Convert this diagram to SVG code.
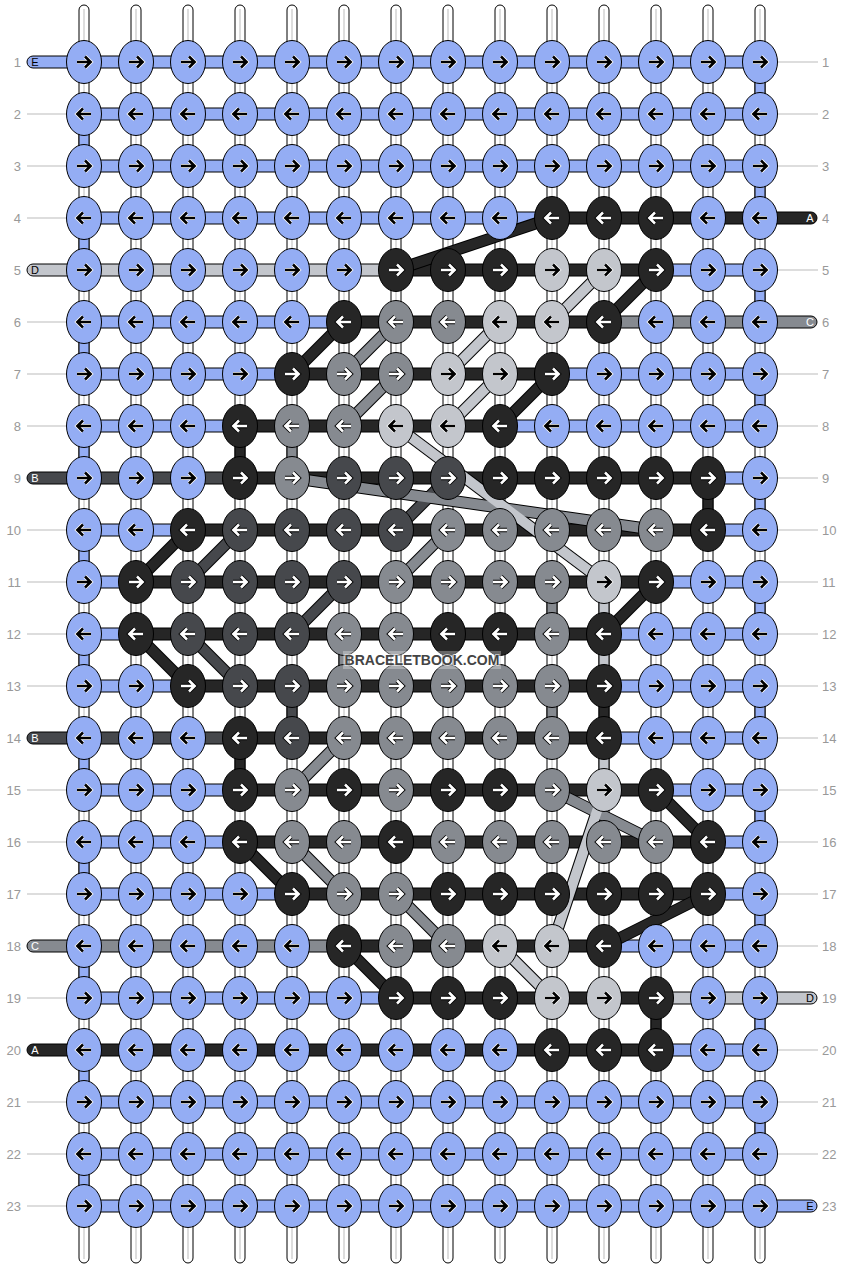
<svg xmlns="http://www.w3.org/2000/svg" xmlns:xlink="http://www.w3.org/1999/xlink" width="844" height="1268" viewBox="0 0 844 1268">
<style>
.wp rect{fill:#fff;stroke:#000;stroke-width:1}
.E{fill:#94adf4}.A{fill:#262626}.B{fill:#46484c}.C{fill:#868a90}.D{fill:#c3c6cc}
.wf rect{stroke:#000;stroke-width:1}
.num{font-family:"Liberation Sans",Arial,sans-serif;font-size:13px;fill:#999}
.lab{font-family:"Liberation Sans",Arial,sans-serif;font-size:11px;text-anchor:middle}
.do line{stroke:#000;stroke-width:12}
.dA{stroke:#262626;stroke-width:10}.dB{stroke:#46484c;stroke-width:10}.dC{stroke:#868a90;stroke-width:10}.dD{stroke:#c3c6cc;stroke-width:10}
</style>
<defs>
<path id="pR" d="M-7 0H6.2M1-5.5L6.6 0L1 5.5" fill="none"/>
<path id="pL" d="M7 0H-6.2M-1-5.5L-6.6 0L-1 5.5" fill="none"/>
<g id="Rw"><use href="#pR" stroke="#000" stroke-width="4.4"/><use href="#pR" stroke="#fff" stroke-width="2.6"/></g>
<g id="Rb"><use href="#pR" stroke="#fff" stroke-width="4.2"/><use href="#pR" stroke="#000" stroke-width="2.6"/></g>
<g id="Lw"><use href="#pL" stroke="#000" stroke-width="4.4"/><use href="#pL" stroke="#fff" stroke-width="2.6"/></g>
<g id="Lb"><use href="#pL" stroke="#fff" stroke-width="4.2"/><use href="#pL" stroke="#000" stroke-width="2.6"/></g>
<g id="ER"><ellipse rx="17.5" ry="21.5" fill="#94adf4" stroke="#000"/><use href="#Rb"/></g>
<g id="EL"><ellipse rx="17.5" ry="21.5" fill="#94adf4" stroke="#000"/><use href="#Lb"/></g>
<g id="DR"><ellipse rx="17.5" ry="21.5" fill="#c3c6cc" stroke="#000"/><use href="#Rb"/></g>
<g id="DL"><ellipse rx="17.5" ry="21.5" fill="#c3c6cc" stroke="#000"/><use href="#Lb"/></g>
<g id="AR"><ellipse rx="17.5" ry="21.5" fill="#262626" stroke="#000"/><use href="#Rw"/></g>
<g id="AL"><ellipse rx="17.5" ry="21.5" fill="#262626" stroke="#000"/><use href="#Lw"/></g>
<g id="BR"><ellipse rx="17.5" ry="21.5" fill="#46484c" stroke="#000"/><use href="#Rw"/></g>
<g id="BL"><ellipse rx="17.5" ry="21.5" fill="#46484c" stroke="#000"/><use href="#Lw"/></g>
<g id="CR"><ellipse rx="17.5" ry="21.5" fill="#868a90" stroke="#000"/><use href="#Rw"/></g>
<g id="CL"><ellipse rx="17.5" ry="21.5" fill="#868a90" stroke="#000"/><use href="#Lw"/></g>
</defs>
<rect width="844" height="1268" fill="#fff"/>
<g id="rownumbers" class="num">
<g text-anchor="end">
<text x="21" y="66.5">1</text><text x="21" y="118.5">2</text><text x="21" y="170.5">3</text><text x="21" y="222.5">4</text><text x="21" y="274.5">5</text><text x="21" y="326.5">6</text><text x="21" y="378.5">7</text><text x="21" y="430.5">8</text><text x="21" y="482.5">9</text><text x="21" y="534.5">10</text><text x="21" y="586.5">11</text><text x="21" y="638.5">12</text><text x="21" y="690.5">13</text><text x="21" y="742.5">14</text><text x="21" y="794.5">15</text><text x="21" y="846.5">16</text><text x="21" y="898.5">17</text><text x="21" y="950.5">18</text><text x="21" y="1002.5">19</text><text x="21" y="1054.5">20</text><text x="21" y="1106.5">21</text><text x="21" y="1158.5">22</text><text x="21" y="1210.5">23</text>
</g>
<g>
<text x="822" y="66.5">1</text><text x="822" y="118.5">2</text><text x="822" y="170.5">3</text><text x="822" y="222.5">4</text><text x="822" y="274.5">5</text><text x="822" y="326.5">6</text><text x="822" y="378.5">7</text><text x="822" y="430.5">8</text><text x="822" y="482.5">9</text><text x="822" y="534.5">10</text><text x="822" y="586.5">11</text><text x="822" y="638.5">12</text><text x="822" y="690.5">13</text><text x="822" y="742.5">14</text><text x="822" y="794.5">15</text><text x="822" y="846.5">16</text><text x="822" y="898.5">17</text><text x="822" y="950.5">18</text><text x="822" y="1002.5">19</text><text x="822" y="1054.5">20</text><text x="822" y="1106.5">21</text><text x="822" y="1158.5">22</text><text x="822" y="1210.5">23</text>
</g>
</g>
<g id="connectors">
<g id="rowlines" stroke="#bbb" stroke-width="1">
<path d="M27 114H67M27 166H67M27 218H67M27 322H67M27 374H67M27 426H67M27 530H67M27 582H67M27 634H67M27 686H67M27 790H67M27 842H67M27 894H67M27 998H67M27 1102H67M27 1154H67M27 1206H67"/>
<path d="M777 62H818M777 114H818M777 166H818M777 270H818M777 374H818M777 426H818M777 478H818M777 530H818M777 582H818M777 634H818M777 686H818M777 738H818M777 790H818M777 842H818M777 894H818M777 946H818M777 1050H818M777 1102H818M777 1154H818"/>
</g>
<g id="warps" class="wp">
<rect x="79" y="5" width="10" height="1258" rx="5"/><rect x="131" y="5" width="10" height="1258" rx="5"/><rect x="183" y="5" width="10" height="1258" rx="5"/><rect x="235" y="5" width="10" height="1258" rx="5"/><rect x="287" y="5" width="10" height="1258" rx="5"/><rect x="339" y="5" width="10" height="1258" rx="5"/><rect x="391" y="5" width="10" height="1258" rx="5"/><rect x="443" y="5" width="10" height="1258" rx="5"/><rect x="495" y="5" width="10" height="1258" rx="5"/><rect x="547" y="5" width="10" height="1258" rx="5"/><rect x="599" y="5" width="10" height="1258" rx="5"/><rect x="651" y="5" width="10" height="1258" rx="5"/><rect x="703" y="5" width="10" height="1258" rx="5"/><rect x="755" y="5" width="10" height="1258" rx="5"/>
</g>
<path id="warpcentres" stroke="#bbb" stroke-width="1" d="M84 9V1259M136 9V1259M188 9V1259M240 9V1259M292 9V1259M344 9V1259M396 9V1259M448 9V1259M500 9V1259M552 9V1259M604 9V1259M656 9V1259M708 9V1259M760 9V1259"/>
<g id="vertical" class="wf">
<rect class="E" x="755" y="62" width="10" height="52"/><rect class="E" x="755" y="166" width="10" height="52"/><rect class="E" x="755" y="270" width="10" height="52"/><rect class="E" x="755" y="374" width="10" height="52"/><rect class="E" x="755" y="478" width="10" height="52"/><rect class="E" x="755" y="582" width="10" height="52"/><rect class="E" x="755" y="686" width="10" height="52"/><rect class="E" x="755" y="790" width="10" height="52"/><rect class="E" x="755" y="894" width="10" height="52"/><rect class="E" x="755" y="998" width="10" height="52"/><rect class="E" x="755" y="1102" width="10" height="52"/>
<rect class="E" x="79" y="114" width="10" height="52"/><rect class="E" x="79" y="218" width="10" height="52"/><rect class="E" x="79" y="322" width="10" height="52"/><rect class="E" x="79" y="426" width="10" height="52"/><rect class="E" x="79" y="530" width="10" height="52"/><rect class="E" x="79" y="634" width="10" height="52"/><rect class="E" x="79" y="738" width="10" height="52"/><rect class="E" x="79" y="842" width="10" height="52"/><rect class="E" x="79" y="946" width="10" height="52"/><rect class="E" x="79" y="1050" width="10" height="52"/><rect class="E" x="79" y="1154" width="10" height="52"/>
<rect class="A" x="235" y="426" width="10" height="52"/><rect class="A" x="703" y="478" width="10" height="52"/><rect class="A" x="235" y="738" width="10" height="52"/><rect class="A" x="651" y="998" width="10" height="52"/>
<rect class="B" x="287" y="686" width="10" height="52"/>
<rect class="C" x="287" y="426" width="10" height="52"/><rect class="C" x="547" y="582" width="10" height="52"/><rect class="C" x="547" y="686" width="10" height="52"/><rect class="C" x="339" y="634" width="10" height="52"/>
<rect class="D" x="599" y="582" width="10" height="104"/><rect class="D" x="599" y="738" width="10" height="52"/>
<rect class="A" x="599" y="686" width="10" height="52"/>
</g>
<g id="weft" class="wf">
<rect class="E" x="27" y="56" width="57" height="12" rx="6"/><rect class="E" x="84" y="56" width="676" height="12"/>
<rect class="E" x="84" y="108" width="676" height="12"/>
<rect class="E" x="84" y="160" width="676" height="12"/>
<rect class="E" x="84" y="212" width="468" height="12"/><rect class="A" x="552" y="212" width="208" height="12"/><rect class="A" x="760" y="212" width="57" height="12" rx="6"/>
<rect class="D" x="27" y="264" width="57" height="12" rx="6"/><rect class="D" x="84" y="264" width="312" height="12"/><rect class="A" x="396" y="264" width="260" height="12"/><rect class="E" x="656" y="264" width="104" height="12"/>
<rect class="E" x="84" y="316" width="260" height="12"/><rect class="A" x="344" y="316" width="260" height="12"/><rect class="C" x="604" y="316" width="156" height="12"/><rect class="C" x="760" y="316" width="57" height="12" rx="6"/>
<rect class="E" x="84" y="368" width="208" height="12"/><rect class="A" x="292" y="368" width="260" height="12"/><rect class="E" x="552" y="368" width="208" height="12"/>
<rect class="E" x="84" y="420" width="156" height="12"/><rect class="A" x="240" y="420" width="260" height="12"/><rect class="E" x="500" y="420" width="260" height="12"/>
<rect class="B" x="27" y="472" width="57" height="12" rx="6"/><rect class="B" x="84" y="472" width="156" height="12"/><rect class="A" x="240" y="472" width="468" height="12"/><rect class="E" x="708" y="472" width="52" height="12"/>
<rect class="E" x="84" y="524" width="104" height="12"/><rect class="A" x="188" y="524" width="520" height="12"/><rect class="E" x="708" y="524" width="52" height="12"/>
<rect class="E" x="84" y="576" width="52" height="12"/><rect class="A" x="136" y="576" width="520" height="12"/><rect class="E" x="656" y="576" width="104" height="12"/>
<rect class="E" x="84" y="628" width="52" height="12"/><rect class="A" x="136" y="628" width="468" height="12"/><rect class="E" x="604" y="628" width="156" height="12"/>
<rect class="E" x="84" y="680" width="104" height="12"/><rect class="A" x="188" y="680" width="416" height="12"/><rect class="E" x="604" y="680" width="156" height="12"/>
<rect class="B" x="27" y="732" width="57" height="12" rx="6"/><rect class="B" x="84" y="732" width="156" height="12"/><rect class="A" x="240" y="732" width="364" height="12"/><rect class="E" x="604" y="732" width="156" height="12"/>
<rect class="E" x="84" y="784" width="156" height="12"/><rect class="A" x="240" y="784" width="416" height="12"/><rect class="E" x="656" y="784" width="104" height="12"/>
<rect class="E" x="84" y="836" width="156" height="12"/><rect class="A" x="240" y="836" width="468" height="12"/><rect class="E" x="708" y="836" width="52" height="12"/>
<rect class="E" x="84" y="888" width="208" height="12"/><rect class="A" x="292" y="888" width="416" height="12"/><rect class="E" x="708" y="888" width="52" height="12"/>
<rect class="C" x="27" y="940" width="57" height="12" rx="6"/><rect class="C" x="84" y="940" width="260" height="12"/><rect class="A" x="344" y="940" width="260" height="12"/><rect class="E" x="604" y="940" width="156" height="12"/>
<rect class="E" x="84" y="992" width="312" height="12"/><rect class="A" x="396" y="992" width="260" height="12"/><rect class="D" x="656" y="992" width="104" height="12"/><rect class="D" x="760" y="992" width="57" height="12" rx="6"/>
<rect class="A" x="27" y="1044" width="57" height="12" rx="6"/><rect class="A" x="84" y="1044" width="572" height="12"/><rect class="E" x="656" y="1044" width="104" height="12"/>
<rect class="E" x="84" y="1096" width="676" height="12"/>
<rect class="E" x="84" y="1148" width="676" height="12"/>
<rect class="E" x="84" y="1200" width="676" height="12"/><rect class="E" x="760" y="1200" width="57" height="12" rx="6"/>
</g>
<g id="diagonals">
<g class="do">
<line x1="552" y1="218" x2="396" y2="270"/><line x1="656" y1="270" x2="604" y2="322"/><line x1="344" y1="322" x2="292" y2="374"/><line x1="552" y1="374" x2="500" y2="426"/><line x1="188" y1="530" x2="136" y2="582"/><line x1="656" y1="582" x2="604" y2="634"/><line x1="136" y1="634" x2="188" y2="686"/><line x1="656" y1="790" x2="708" y2="842"/><line x1="240" y1="842" x2="292" y2="894"/><line x1="708" y1="894" x2="604" y2="946"/><line x1="344" y1="946" x2="396" y2="998"/>
<line x1="448" y1="478" x2="396" y2="530"/><line x1="240" y1="530" x2="188" y2="582"/><line x1="344" y1="582" x2="292" y2="634"/><line x1="188" y1="634" x2="240" y2="686"/>
<line x1="396" y1="322" x2="344" y2="374"/><line x1="396" y1="374" x2="344" y2="426"/><line x1="292" y1="478" x2="656" y2="530"/><line x1="448" y1="530" x2="396" y2="582"/><line x1="344" y1="738" x2="292" y2="790"/><line x1="552" y1="790" x2="656" y2="842"/><line x1="292" y1="842" x2="344" y2="894"/><line x1="396" y1="894" x2="448" y2="946"/>
<line x1="604" y1="270" x2="552" y2="322"/><line x1="500" y1="322" x2="448" y2="374"/><line x1="500" y1="374" x2="448" y2="426"/><line x1="396" y1="426" x2="604" y2="582"/><line x1="604" y1="790" x2="552" y2="946"/><line x1="500" y1="946" x2="552" y2="998"/>
</g>
<g class="dA">
<line x1="552" y1="218" x2="396" y2="270"/><line x1="656" y1="270" x2="604" y2="322"/><line x1="344" y1="322" x2="292" y2="374"/><line x1="552" y1="374" x2="500" y2="426"/><line x1="188" y1="530" x2="136" y2="582"/><line x1="656" y1="582" x2="604" y2="634"/><line x1="136" y1="634" x2="188" y2="686"/><line x1="656" y1="790" x2="708" y2="842"/><line x1="240" y1="842" x2="292" y2="894"/><line x1="708" y1="894" x2="604" y2="946"/><line x1="344" y1="946" x2="396" y2="998"/>
</g>
<g class="dB">
<line x1="448" y1="478" x2="396" y2="530"/><line x1="240" y1="530" x2="188" y2="582"/><line x1="344" y1="582" x2="292" y2="634"/><line x1="188" y1="634" x2="240" y2="686"/>
</g>
<g class="dC">
<line x1="396" y1="322" x2="344" y2="374"/><line x1="396" y1="374" x2="344" y2="426"/><line x1="292" y1="478" x2="656" y2="530"/><line x1="448" y1="530" x2="396" y2="582"/><line x1="344" y1="738" x2="292" y2="790"/><line x1="552" y1="790" x2="656" y2="842"/><line x1="292" y1="842" x2="344" y2="894"/><line x1="396" y1="894" x2="448" y2="946"/>
</g>
<g class="dD">
<line x1="604" y1="270" x2="552" y2="322"/><line x1="500" y1="322" x2="448" y2="374"/><line x1="500" y1="374" x2="448" y2="426"/><line x1="396" y1="426" x2="604" y2="582"/><line x1="604" y1="790" x2="552" y2="946"/><line x1="500" y1="946" x2="552" y2="998"/>
</g>
</g>
<g id="strandlabels" class="lab">
<text x="35" y="66">E</text><text x="35" y="274">D</text><text x="35" y="482" fill="#fff">B</text><text x="35" y="742" fill="#fff">B</text><text x="35" y="950" fill="#fff">C</text><text x="35" y="1054" fill="#fff">A</text>
<text x="810" y="222" fill="#fff">A</text><text x="810" y="326" fill="#fff">C</text><text x="810" y="1002">D</text><text x="810" y="1210">E</text>
</g>
</g>
<g id="knots">
<g id="n1-1"><use href="#ER" x="84" y="62"/></g><g id="n1-2"><use href="#ER" x="136" y="62"/></g><g id="n1-3"><use href="#ER" x="188" y="62"/></g><g id="n1-4"><use href="#ER" x="240" y="62"/></g><g id="n1-5"><use href="#ER" x="292" y="62"/></g><g id="n1-6"><use href="#ER" x="344" y="62"/></g><g id="n1-7"><use href="#ER" x="396" y="62"/></g><g id="n1-8"><use href="#ER" x="448" y="62"/></g><g id="n1-9"><use href="#ER" x="500" y="62"/></g><g id="n1-10"><use href="#ER" x="552" y="62"/></g><g id="n1-11"><use href="#ER" x="604" y="62"/></g><g id="n1-12"><use href="#ER" x="656" y="62"/></g><g id="n1-13"><use href="#ER" x="708" y="62"/></g><g id="n1-14"><use href="#ER" x="760" y="62"/></g>
<g id="n2-1"><use href="#EL" x="84" y="114"/></g><g id="n2-2"><use href="#EL" x="136" y="114"/></g><g id="n2-3"><use href="#EL" x="188" y="114"/></g><g id="n2-4"><use href="#EL" x="240" y="114"/></g><g id="n2-5"><use href="#EL" x="292" y="114"/></g><g id="n2-6"><use href="#EL" x="344" y="114"/></g><g id="n2-7"><use href="#EL" x="396" y="114"/></g><g id="n2-8"><use href="#EL" x="448" y="114"/></g><g id="n2-9"><use href="#EL" x="500" y="114"/></g><g id="n2-10"><use href="#EL" x="552" y="114"/></g><g id="n2-11"><use href="#EL" x="604" y="114"/></g><g id="n2-12"><use href="#EL" x="656" y="114"/></g><g id="n2-13"><use href="#EL" x="708" y="114"/></g><g id="n2-14"><use href="#EL" x="760" y="114"/></g>
<g id="n3-1"><use href="#ER" x="84" y="166"/></g><g id="n3-2"><use href="#ER" x="136" y="166"/></g><g id="n3-3"><use href="#ER" x="188" y="166"/></g><g id="n3-4"><use href="#ER" x="240" y="166"/></g><g id="n3-5"><use href="#ER" x="292" y="166"/></g><g id="n3-6"><use href="#ER" x="344" y="166"/></g><g id="n3-7"><use href="#ER" x="396" y="166"/></g><g id="n3-8"><use href="#ER" x="448" y="166"/></g><g id="n3-9"><use href="#ER" x="500" y="166"/></g><g id="n3-10"><use href="#ER" x="552" y="166"/></g><g id="n3-11"><use href="#ER" x="604" y="166"/></g><g id="n3-12"><use href="#ER" x="656" y="166"/></g><g id="n3-13"><use href="#ER" x="708" y="166"/></g><g id="n3-14"><use href="#ER" x="760" y="166"/></g>
<g id="n4-1"><use href="#EL" x="84" y="218"/></g><g id="n4-2"><use href="#EL" x="136" y="218"/></g><g id="n4-3"><use href="#EL" x="188" y="218"/></g><g id="n4-4"><use href="#EL" x="240" y="218"/></g><g id="n4-5"><use href="#EL" x="292" y="218"/></g><g id="n4-6"><use href="#EL" x="344" y="218"/></g><g id="n4-7"><use href="#EL" x="396" y="218"/></g><g id="n4-8"><use href="#EL" x="448" y="218"/></g><g id="n4-9"><use href="#EL" x="500" y="218"/></g><g id="n4-10"><use href="#AL" x="552" y="218"/></g><g id="n4-11"><use href="#AL" x="604" y="218"/></g><g id="n4-12"><use href="#AL" x="656" y="218"/></g><g id="n4-13"><use href="#EL" x="708" y="218"/></g><g id="n4-14"><use href="#EL" x="760" y="218"/></g>
<g id="n5-1"><use href="#ER" x="84" y="270"/></g><g id="n5-2"><use href="#ER" x="136" y="270"/></g><g id="n5-3"><use href="#ER" x="188" y="270"/></g><g id="n5-4"><use href="#ER" x="240" y="270"/></g><g id="n5-5"><use href="#ER" x="292" y="270"/></g><g id="n5-6"><use href="#ER" x="344" y="270"/></g><g id="n5-7"><use href="#AR" x="396" y="270"/></g><g id="n5-8"><use href="#AR" x="448" y="270"/></g><g id="n5-9"><use href="#AR" x="500" y="270"/></g><g id="n5-10"><use href="#DR" x="552" y="270"/></g><g id="n5-11"><use href="#DR" x="604" y="270"/></g><g id="n5-12"><use href="#AR" x="656" y="270"/></g><g id="n5-13"><use href="#ER" x="708" y="270"/></g><g id="n5-14"><use href="#ER" x="760" y="270"/></g>
<g id="n6-1"><use href="#EL" x="84" y="322"/></g><g id="n6-2"><use href="#EL" x="136" y="322"/></g><g id="n6-3"><use href="#EL" x="188" y="322"/></g><g id="n6-4"><use href="#EL" x="240" y="322"/></g><g id="n6-5"><use href="#EL" x="292" y="322"/></g><g id="n6-6"><use href="#AL" x="344" y="322"/></g><g id="n6-7"><use href="#CL" x="396" y="322"/></g><g id="n6-8"><use href="#CL" x="448" y="322"/></g><g id="n6-9"><use href="#DL" x="500" y="322"/></g><g id="n6-10"><use href="#DL" x="552" y="322"/></g><g id="n6-11"><use href="#AL" x="604" y="322"/></g><g id="n6-12"><use href="#EL" x="656" y="322"/></g><g id="n6-13"><use href="#EL" x="708" y="322"/></g><g id="n6-14"><use href="#EL" x="760" y="322"/></g>
<g id="n7-1"><use href="#ER" x="84" y="374"/></g><g id="n7-2"><use href="#ER" x="136" y="374"/></g><g id="n7-3"><use href="#ER" x="188" y="374"/></g><g id="n7-4"><use href="#ER" x="240" y="374"/></g><g id="n7-5"><use href="#AR" x="292" y="374"/></g><g id="n7-6"><use href="#CR" x="344" y="374"/></g><g id="n7-7"><use href="#CR" x="396" y="374"/></g><g id="n7-8"><use href="#DR" x="448" y="374"/></g><g id="n7-9"><use href="#DR" x="500" y="374"/></g><g id="n7-10"><use href="#AR" x="552" y="374"/></g><g id="n7-11"><use href="#ER" x="604" y="374"/></g><g id="n7-12"><use href="#ER" x="656" y="374"/></g><g id="n7-13"><use href="#ER" x="708" y="374"/></g><g id="n7-14"><use href="#ER" x="760" y="374"/></g>
<g id="n8-1"><use href="#EL" x="84" y="426"/></g><g id="n8-2"><use href="#EL" x="136" y="426"/></g><g id="n8-3"><use href="#EL" x="188" y="426"/></g><g id="n8-4"><use href="#AL" x="240" y="426"/></g><g id="n8-5"><use href="#CL" x="292" y="426"/></g><g id="n8-6"><use href="#CL" x="344" y="426"/></g><g id="n8-7"><use href="#DL" x="396" y="426"/></g><g id="n8-8"><use href="#DL" x="448" y="426"/></g><g id="n8-9"><use href="#AL" x="500" y="426"/></g><g id="n8-10"><use href="#EL" x="552" y="426"/></g><g id="n8-11"><use href="#EL" x="604" y="426"/></g><g id="n8-12"><use href="#EL" x="656" y="426"/></g><g id="n8-13"><use href="#EL" x="708" y="426"/></g><g id="n8-14"><use href="#EL" x="760" y="426"/></g>
<g id="n9-1"><use href="#ER" x="84" y="478"/></g><g id="n9-2"><use href="#ER" x="136" y="478"/></g><g id="n9-3"><use href="#ER" x="188" y="478"/></g><g id="n9-4"><use href="#AR" x="240" y="478"/></g><g id="n9-5"><use href="#CR" x="292" y="478"/></g><g id="n9-6"><use href="#BR" x="344" y="478"/></g><g id="n9-7"><use href="#BR" x="396" y="478"/></g><g id="n9-8"><use href="#BR" x="448" y="478"/></g><g id="n9-9"><use href="#AR" x="500" y="478"/></g><g id="n9-10"><use href="#AR" x="552" y="478"/></g><g id="n9-11"><use href="#AR" x="604" y="478"/></g><g id="n9-12"><use href="#AR" x="656" y="478"/></g><g id="n9-13"><use href="#AR" x="708" y="478"/></g><g id="n9-14"><use href="#ER" x="760" y="478"/></g>
<g id="n10-1"><use href="#EL" x="84" y="530"/></g><g id="n10-2"><use href="#EL" x="136" y="530"/></g><g id="n10-3"><use href="#AL" x="188" y="530"/></g><g id="n10-4"><use href="#BL" x="240" y="530"/></g><g id="n10-5"><use href="#BL" x="292" y="530"/></g><g id="n10-6"><use href="#BL" x="344" y="530"/></g><g id="n10-7"><use href="#BL" x="396" y="530"/></g><g id="n10-8"><use href="#CL" x="448" y="530"/></g><g id="n10-9"><use href="#CL" x="500" y="530"/></g><g id="n10-10"><use href="#CL" x="552" y="530"/></g><g id="n10-11"><use href="#CL" x="604" y="530"/></g><g id="n10-12"><use href="#CL" x="656" y="530"/></g><g id="n10-13"><use href="#AL" x="708" y="530"/></g><g id="n10-14"><use href="#EL" x="760" y="530"/></g>
<g id="n11-1"><use href="#ER" x="84" y="582"/></g><g id="n11-2"><use href="#AR" x="136" y="582"/></g><g id="n11-3"><use href="#BR" x="188" y="582"/></g><g id="n11-4"><use href="#BR" x="240" y="582"/></g><g id="n11-5"><use href="#BR" x="292" y="582"/></g><g id="n11-6"><use href="#BR" x="344" y="582"/></g><g id="n11-7"><use href="#CR" x="396" y="582"/></g><g id="n11-8"><use href="#CR" x="448" y="582"/></g><g id="n11-9"><use href="#CR" x="500" y="582"/></g><g id="n11-10"><use href="#CR" x="552" y="582"/></g><g id="n11-11"><use href="#DR" x="604" y="582"/></g><g id="n11-12"><use href="#AR" x="656" y="582"/></g><g id="n11-13"><use href="#ER" x="708" y="582"/></g><g id="n11-14"><use href="#ER" x="760" y="582"/></g>
<g id="n12-1"><use href="#EL" x="84" y="634"/></g><g id="n12-2"><use href="#AL" x="136" y="634"/></g><g id="n12-3"><use href="#BL" x="188" y="634"/></g><g id="n12-4"><use href="#BL" x="240" y="634"/></g><g id="n12-5"><use href="#BL" x="292" y="634"/></g><g id="n12-6"><use href="#CL" x="344" y="634"/></g><g id="n12-7"><use href="#CL" x="396" y="634"/></g><g id="n12-8"><use href="#AL" x="448" y="634"/></g><g id="n12-9"><use href="#AL" x="500" y="634"/></g><g id="n12-10"><use href="#CL" x="552" y="634"/></g><g id="n12-11"><use href="#AL" x="604" y="634"/></g><g id="n12-12"><use href="#EL" x="656" y="634"/></g><g id="n12-13"><use href="#EL" x="708" y="634"/></g><g id="n12-14"><use href="#EL" x="760" y="634"/></g>
<g id="n13-1"><use href="#ER" x="84" y="686"/></g><g id="n13-2"><use href="#ER" x="136" y="686"/></g><g id="n13-3"><use href="#AR" x="188" y="686"/></g><g id="n13-4"><use href="#BR" x="240" y="686"/></g><g id="n13-5"><use href="#BR" x="292" y="686"/></g><g id="n13-6"><use href="#CR" x="344" y="686"/></g><g id="n13-7"><use href="#CR" x="396" y="686"/></g><g id="n13-8"><use href="#CR" x="448" y="686"/></g><g id="n13-9"><use href="#CR" x="500" y="686"/></g><g id="n13-10"><use href="#CR" x="552" y="686"/></g><g id="n13-11"><use href="#AR" x="604" y="686"/></g><g id="n13-12"><use href="#ER" x="656" y="686"/></g><g id="n13-13"><use href="#ER" x="708" y="686"/></g><g id="n13-14"><use href="#ER" x="760" y="686"/></g>
<g id="n14-1"><use href="#EL" x="84" y="738"/></g><g id="n14-2"><use href="#EL" x="136" y="738"/></g><g id="n14-3"><use href="#EL" x="188" y="738"/></g><g id="n14-4"><use href="#AL" x="240" y="738"/></g><g id="n14-5"><use href="#BL" x="292" y="738"/></g><g id="n14-6"><use href="#CL" x="344" y="738"/></g><g id="n14-7"><use href="#CL" x="396" y="738"/></g><g id="n14-8"><use href="#CL" x="448" y="738"/></g><g id="n14-9"><use href="#CL" x="500" y="738"/></g><g id="n14-10"><use href="#CL" x="552" y="738"/></g><g id="n14-11"><use href="#AL" x="604" y="738"/></g><g id="n14-12"><use href="#EL" x="656" y="738"/></g><g id="n14-13"><use href="#EL" x="708" y="738"/></g><g id="n14-14"><use href="#EL" x="760" y="738"/></g>
<g id="n15-1"><use href="#ER" x="84" y="790"/></g><g id="n15-2"><use href="#ER" x="136" y="790"/></g><g id="n15-3"><use href="#ER" x="188" y="790"/></g><g id="n15-4"><use href="#AR" x="240" y="790"/></g><g id="n15-5"><use href="#CR" x="292" y="790"/></g><g id="n15-6"><use href="#AR" x="344" y="790"/></g><g id="n15-7"><use href="#CR" x="396" y="790"/></g><g id="n15-8"><use href="#AR" x="448" y="790"/></g><g id="n15-9"><use href="#AR" x="500" y="790"/></g><g id="n15-10"><use href="#CR" x="552" y="790"/></g><g id="n15-11"><use href="#DR" x="604" y="790"/></g><g id="n15-12"><use href="#AR" x="656" y="790"/></g><g id="n15-13"><use href="#ER" x="708" y="790"/></g><g id="n15-14"><use href="#ER" x="760" y="790"/></g>
<g id="n16-1"><use href="#EL" x="84" y="842"/></g><g id="n16-2"><use href="#EL" x="136" y="842"/></g><g id="n16-3"><use href="#EL" x="188" y="842"/></g><g id="n16-4"><use href="#AL" x="240" y="842"/></g><g id="n16-5"><use href="#CL" x="292" y="842"/></g><g id="n16-6"><use href="#CL" x="344" y="842"/></g><g id="n16-7"><use href="#AL" x="396" y="842"/></g><g id="n16-8"><use href="#CL" x="448" y="842"/></g><g id="n16-9"><use href="#CL" x="500" y="842"/></g><g id="n16-10"><use href="#CL" x="552" y="842"/></g><g id="n16-11"><use href="#CL" x="604" y="842"/></g><g id="n16-12"><use href="#CL" x="656" y="842"/></g><g id="n16-13"><use href="#AL" x="708" y="842"/></g><g id="n16-14"><use href="#EL" x="760" y="842"/></g>
<g id="n17-1"><use href="#ER" x="84" y="894"/></g><g id="n17-2"><use href="#ER" x="136" y="894"/></g><g id="n17-3"><use href="#ER" x="188" y="894"/></g><g id="n17-4"><use href="#ER" x="240" y="894"/></g><g id="n17-5"><use href="#AR" x="292" y="894"/></g><g id="n17-6"><use href="#CR" x="344" y="894"/></g><g id="n17-7"><use href="#CR" x="396" y="894"/></g><g id="n17-8"><use href="#AR" x="448" y="894"/></g><g id="n17-9"><use href="#AR" x="500" y="894"/></g><g id="n17-10"><use href="#AR" x="552" y="894"/></g><g id="n17-11"><use href="#AR" x="604" y="894"/></g><g id="n17-12"><use href="#AR" x="656" y="894"/></g><g id="n17-13"><use href="#AR" x="708" y="894"/></g><g id="n17-14"><use href="#ER" x="760" y="894"/></g>
<g id="n18-1"><use href="#EL" x="84" y="946"/></g><g id="n18-2"><use href="#EL" x="136" y="946"/></g><g id="n18-3"><use href="#EL" x="188" y="946"/></g><g id="n18-4"><use href="#EL" x="240" y="946"/></g><g id="n18-5"><use href="#EL" x="292" y="946"/></g><g id="n18-6"><use href="#AL" x="344" y="946"/></g><g id="n18-7"><use href="#CL" x="396" y="946"/></g><g id="n18-8"><use href="#CL" x="448" y="946"/></g><g id="n18-9"><use href="#DL" x="500" y="946"/></g><g id="n18-10"><use href="#DL" x="552" y="946"/></g><g id="n18-11"><use href="#AL" x="604" y="946"/></g><g id="n18-12"><use href="#EL" x="656" y="946"/></g><g id="n18-13"><use href="#EL" x="708" y="946"/></g><g id="n18-14"><use href="#EL" x="760" y="946"/></g>
<g id="n19-1"><use href="#ER" x="84" y="998"/></g><g id="n19-2"><use href="#ER" x="136" y="998"/></g><g id="n19-3"><use href="#ER" x="188" y="998"/></g><g id="n19-4"><use href="#ER" x="240" y="998"/></g><g id="n19-5"><use href="#ER" x="292" y="998"/></g><g id="n19-6"><use href="#ER" x="344" y="998"/></g><g id="n19-7"><use href="#AR" x="396" y="998"/></g><g id="n19-8"><use href="#AR" x="448" y="998"/></g><g id="n19-9"><use href="#AR" x="500" y="998"/></g><g id="n19-10"><use href="#DR" x="552" y="998"/></g><g id="n19-11"><use href="#DR" x="604" y="998"/></g><g id="n19-12"><use href="#AR" x="656" y="998"/></g><g id="n19-13"><use href="#ER" x="708" y="998"/></g><g id="n19-14"><use href="#ER" x="760" y="998"/></g>
<g id="n20-1"><use href="#EL" x="84" y="1050"/></g><g id="n20-2"><use href="#EL" x="136" y="1050"/></g><g id="n20-3"><use href="#EL" x="188" y="1050"/></g><g id="n20-4"><use href="#EL" x="240" y="1050"/></g><g id="n20-5"><use href="#EL" x="292" y="1050"/></g><g id="n20-6"><use href="#EL" x="344" y="1050"/></g><g id="n20-7"><use href="#EL" x="396" y="1050"/></g><g id="n20-8"><use href="#EL" x="448" y="1050"/></g><g id="n20-9"><use href="#EL" x="500" y="1050"/></g><g id="n20-10"><use href="#AL" x="552" y="1050"/></g><g id="n20-11"><use href="#AL" x="604" y="1050"/></g><g id="n20-12"><use href="#AL" x="656" y="1050"/></g><g id="n20-13"><use href="#EL" x="708" y="1050"/></g><g id="n20-14"><use href="#EL" x="760" y="1050"/></g>
<g id="n21-1"><use href="#ER" x="84" y="1102"/></g><g id="n21-2"><use href="#ER" x="136" y="1102"/></g><g id="n21-3"><use href="#ER" x="188" y="1102"/></g><g id="n21-4"><use href="#ER" x="240" y="1102"/></g><g id="n21-5"><use href="#ER" x="292" y="1102"/></g><g id="n21-6"><use href="#ER" x="344" y="1102"/></g><g id="n21-7"><use href="#ER" x="396" y="1102"/></g><g id="n21-8"><use href="#ER" x="448" y="1102"/></g><g id="n21-9"><use href="#ER" x="500" y="1102"/></g><g id="n21-10"><use href="#ER" x="552" y="1102"/></g><g id="n21-11"><use href="#ER" x="604" y="1102"/></g><g id="n21-12"><use href="#ER" x="656" y="1102"/></g><g id="n21-13"><use href="#ER" x="708" y="1102"/></g><g id="n21-14"><use href="#ER" x="760" y="1102"/></g>
<g id="n22-1"><use href="#EL" x="84" y="1154"/></g><g id="n22-2"><use href="#EL" x="136" y="1154"/></g><g id="n22-3"><use href="#EL" x="188" y="1154"/></g><g id="n22-4"><use href="#EL" x="240" y="1154"/></g><g id="n22-5"><use href="#EL" x="292" y="1154"/></g><g id="n22-6"><use href="#EL" x="344" y="1154"/></g><g id="n22-7"><use href="#EL" x="396" y="1154"/></g><g id="n22-8"><use href="#EL" x="448" y="1154"/></g><g id="n22-9"><use href="#EL" x="500" y="1154"/></g><g id="n22-10"><use href="#EL" x="552" y="1154"/></g><g id="n22-11"><use href="#EL" x="604" y="1154"/></g><g id="n22-12"><use href="#EL" x="656" y="1154"/></g><g id="n22-13"><use href="#EL" x="708" y="1154"/></g><g id="n22-14"><use href="#EL" x="760" y="1154"/></g>
<g id="n23-1"><use href="#ER" x="84" y="1206"/></g><g id="n23-2"><use href="#ER" x="136" y="1206"/></g><g id="n23-3"><use href="#ER" x="188" y="1206"/></g><g id="n23-4"><use href="#ER" x="240" y="1206"/></g><g id="n23-5"><use href="#ER" x="292" y="1206"/></g><g id="n23-6"><use href="#ER" x="344" y="1206"/></g><g id="n23-7"><use href="#ER" x="396" y="1206"/></g><g id="n23-8"><use href="#ER" x="448" y="1206"/></g><g id="n23-9"><use href="#ER" x="500" y="1206"/></g><g id="n23-10"><use href="#ER" x="552" y="1206"/></g><g id="n23-11"><use href="#ER" x="604" y="1206"/></g><g id="n23-12"><use href="#ER" x="656" y="1206"/></g><g id="n23-13"><use href="#ER" x="708" y="1206"/></g><g id="n23-14"><use href="#ER" x="760" y="1206"/></g>
</g>
<g id="watermark">
<rect x="343" y="651" width="158" height="18" fill="#fff" fill-opacity="0.3"/>
<text x="422" y="665" text-anchor="middle" font-family="'Liberation Sans',Arial,sans-serif" font-size="14" font-weight="bold" fill="#444" stroke="#fff" stroke-width="2" stroke-opacity="0.6" paint-order="stroke">BRACELETBOOK.COM</text>
</g>
</svg>
